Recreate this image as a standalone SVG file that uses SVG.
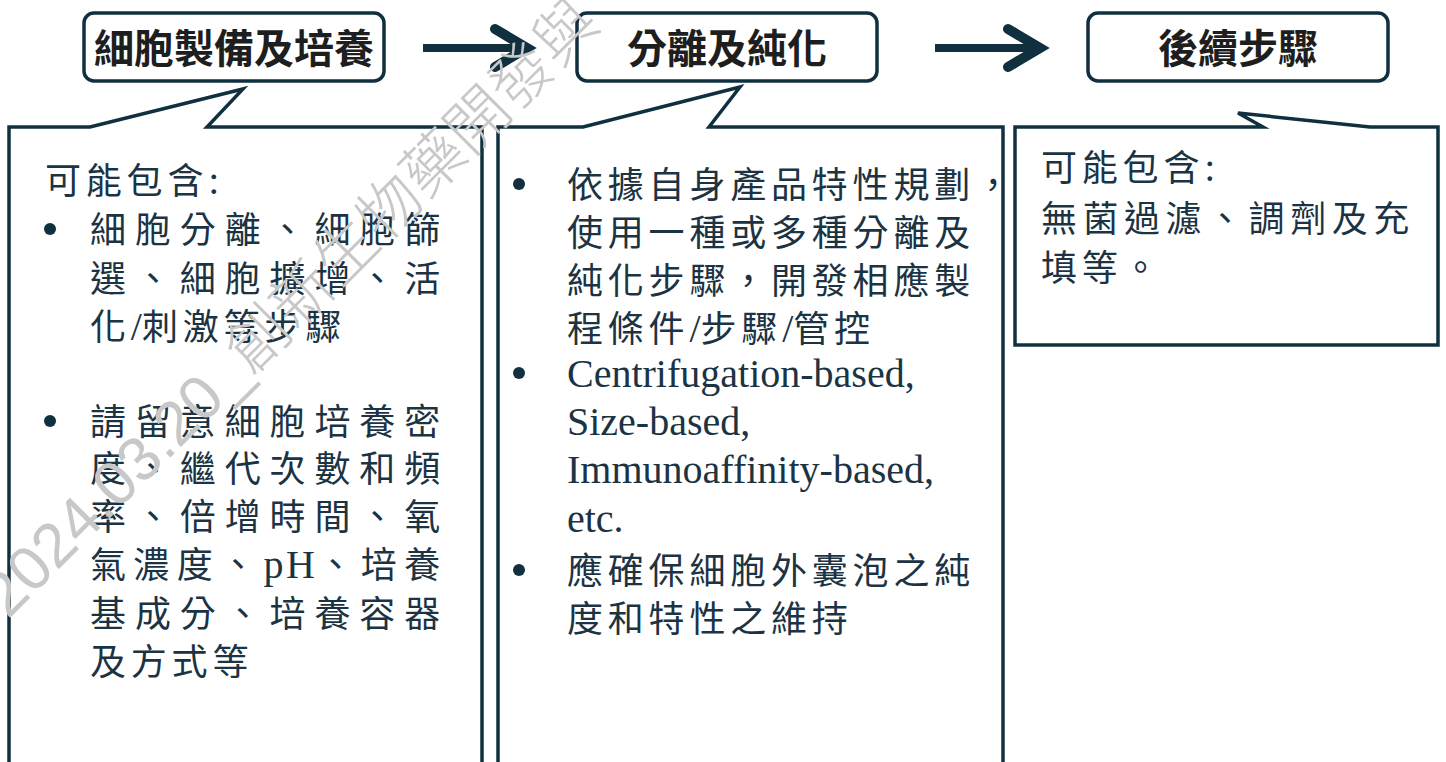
<svg xmlns="http://www.w3.org/2000/svg" width="1446" height="762" viewBox="0 0 1446 762">
<style>
.box{fill:#fff;stroke:#10303f;stroke-width:3.5}
.call{fill:#fff;stroke:#10303f;stroke-width:3.5;stroke-linejoin:miter}
.title{font-family:"Noto Sans CJK TC","Noto Sans CJK SC",sans-serif;font-weight:bold;font-size:40px;fill:#1e1e1e;text-anchor:middle}
.t{font-family:"Liberation Serif","Noto Sans CJK TC",serif;font-size:36px;fill:#1b3343;letter-spacing:4.8px}
.l{font-size:40px;letter-spacing:0}
.en{font-family:"Liberation Serif","Noto Sans CJK TC",serif;font-size:40px;fill:#1b3343}
.dot{fill:#10303f}
.shaft{stroke:#10303f;stroke-width:8;fill:none}
.head{stroke:#10303f;stroke-width:10;fill:none;stroke-linecap:round;stroke-linejoin:miter}
.wm{font-family:"Liberation Sans","Noto Sans CJK TC",sans-serif;font-weight:300;font-size:62px;fill:#c8c8c8}
</style>

<g id="callout1">
  <path class="call" d="M9,800 V127 H90 L243,89 L207,127 H482 V800"/>
  <text class="t" x="45" y="194">可能包含<tspan class="l">:</tspan></text>
  <circle class="dot" cx="50" cy="229" r="6"/>
  <text class="t" x="90" y="243" textLength="355" lengthAdjust="spacing">細胞分離、細胞篩</text>
  <text class="t" x="90" y="291.5" textLength="355" lengthAdjust="spacing">選、細胞擴增、活</text>
  <text class="t" x="90" y="340">化<tspan class="l">/</tspan>刺激等步驟</text>
  <circle class="dot" cx="50" cy="421" r="6"/>
  <text class="t" x="90" y="435" textLength="355" lengthAdjust="spacing">請留意細胞培養密</text>
  <text class="t" x="90" y="482" textLength="355" lengthAdjust="spacing">度、繼代次數和頻</text>
  <text class="t" x="90" y="530" textLength="355" lengthAdjust="spacing">率、倍增時間、氧</text>
  <text class="t" x="90" y="578" textLength="355" lengthAdjust="spacing">氣濃度、<tspan class="l">pH</tspan>、培養</text>
  <text class="t" x="90" y="626.5" textLength="355" lengthAdjust="spacing">基成分、培養容器</text>
  <text class="t" x="90" y="675">及方式等</text>
</g>

<g id="callout2">
  <path class="call" d="M498,800 V127 H583 L740,87 L709,127 H1003 V800"/>
  <circle class="dot" cx="519" cy="184" r="6"/>
  <text class="t" x="567" y="198">依據自身產品特性規劃，</text>
  <text class="t" x="567" y="246">使用一種或多種分離及</text>
  <text class="t" x="567" y="294">純化步驟，開發相應製</text>
  <text class="t" x="567" y="342">程條件<tspan class="l">/</tspan>步驟<tspan class="l">/</tspan>管控</text>
  <circle class="dot" cx="519" cy="373" r="6"/>
  <text class="en" x="567" y="387">Centrifugation-based,</text>
  <text class="en" x="567" y="435">Size-based,</text>
  <text class="en" x="567" y="483">Immunoaffinity-based,</text>
  <text class="en" x="567" y="532">etc.</text>
  <circle class="dot" cx="519" cy="570" r="6"/>
  <text class="t" x="567" y="584">應確保細胞外囊泡之純</text>
  <text class="t" x="567" y="632">度和特性之維持</text>
</g>

<g id="callout3">
  <path class="call" d="M1015,345 V127 H1263 L1238,113 L1370,127 H1438 V345 Z"/>
  <text class="t" x="1041" y="181">可能包含<tspan class="l">:</tspan></text>
  <text class="t" x="1041" y="232" textLength="373" lengthAdjust="spacing">無菌過濾、調劑及充</text>
  <text class="t" x="1041" y="281">填等。</text>
</g>

<g id="step1">
  <rect class="box" x="84" y="13" width="300" height="68" rx="10"/>
  <text class="title" x="234" y="63">細胞製備及培養</text>
</g>
<g id="step2">
  <rect class="box" x="577" y="13" width="300" height="68" rx="10"/>
  <text class="title" x="727" y="63">分離及純化</text>
</g>
<g id="step3">
  <rect class="box" x="1088" y="13" width="300" height="68" rx="10"/>
  <text class="title" x="1238" y="63">後續步驟</text>
</g>

<g id="connectors">
  <line class="shaft" x1="423" y1="48" x2="522" y2="48"/>
  <polyline class="head" points="495,29 527,48 495,67"/>
  <line class="shaft" x1="935" y1="48" x2="1035" y2="48"/>
  <polyline class="head" points="1008,29 1040,48 1008,67"/>
</g>

<g id="watermark">
  <text class="wm" transform="translate(8,620) rotate(-45)">2024.03.20_創新生物藥開發與</text>
</g>
</svg>
